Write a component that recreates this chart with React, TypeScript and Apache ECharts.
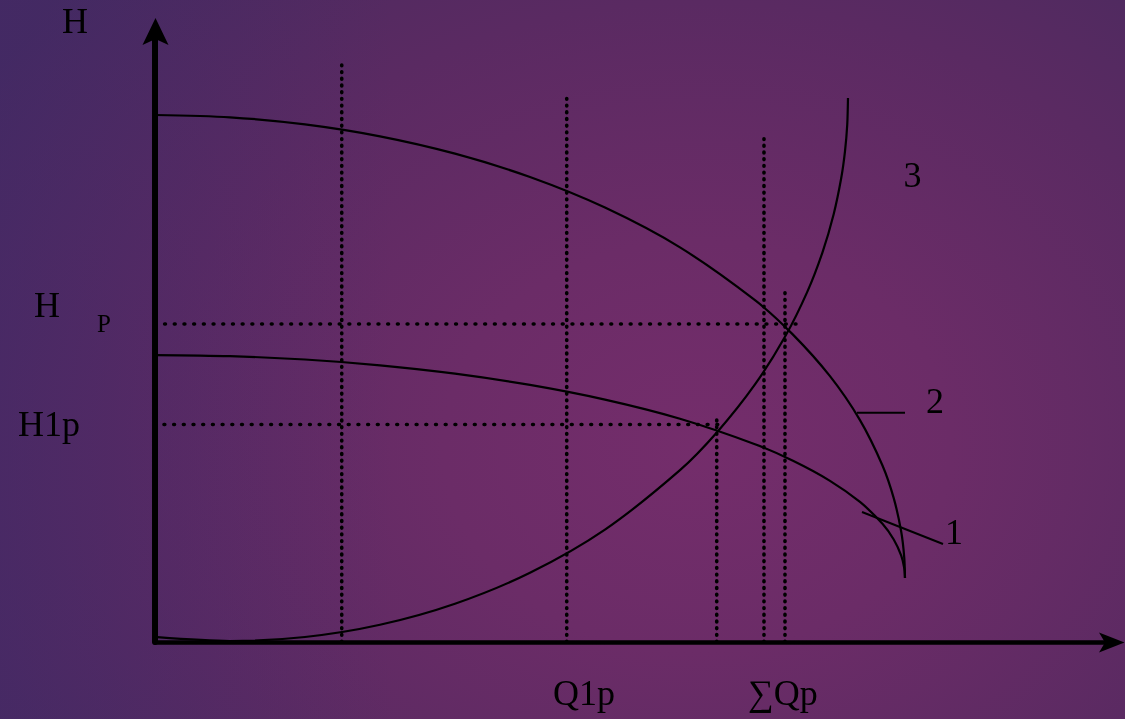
import React, { useEffect, useRef } from "react";
import * as echarts from "echarts";

// Flow Q (arbitrary units) and head H (arbitrary units)
const pumpQ = [0, 10, 20, 30, 40, 50, 60, 70, 80, 85, 90, 94, 97, 98.5, 99.5, 99.9, 100];
const curve1H = [54.45, 54.24, 53.6, 52.5, 50.92, 48.78, 45.99, 42.36, 37.53, 34.43, 30.58, 26.57, 22.43, 19.44, 16.37, 14.03, 12.14];
const curve2H = [100.0, 99.56, 98.22, 95.95, 92.66, 88.23, 82.43, 74.88, 64.86, 58.42, 50.44, 42.11, 33.5, 27.3, 20.91, 16.07, 12.14];

const systemQ = [0.3, 10, 20, 30, 40, 50, 60, 70, 75, 80, 84, 87, 89, 90.5, 91.5, 92, 92.3, 92.4];
const curve3H = [0.91, 0.19, 0.95, 3.27, 7.26, 13.14, 21.33, 32.61, 39.9, 48.87, 57.91, 66.54, 73.94, 81.23, 88.04, 93.09, 98.16, 103.23];

// vertical dotted guide lines: flow position and top head
const guideQ = [24.9, 54.9, 74.9, 81.2, 84.0];
const guideTop = [109.5, 103.3, 42.6, 95.9, 66.8];

// horizontal dotted guide lines: head, start flow, end flow
const levelH = [60.34, 41.27];
const levelFrom = [-1.3, 1.2];
const levelTo = [86.2, 75.3];

const X_MAX = 127.07;
const Y_MAX = 114.23;

const FONT = '"Liberation Serif", "Times New Roman", "DejaVu Serif", serif';

export default function App() {
  const ref = useRef<HTMLDivElement>(null);

  useEffect(() => {
    if (!ref.current) return;
    const chart = echarts.init(ref.current, undefined, { renderer: "svg" });

    const curveStyle = { color: "#000", width: 2.2 };
    const series: any[] = [
      {
        type: "line",
        name: "1",
        data: pumpQ.map((q, i) => [q, curve1H[i]]),
        smooth: 0.3,
        showSymbol: false,
        lineStyle: curveStyle,
      },
      {
        type: "line",
        name: "2",
        data: pumpQ.map((q, i) => [q, curve2H[i]]),
        smooth: 0.3,
        showSymbol: false,
        lineStyle: curveStyle,
      },
      {
        type: "line",
        name: "3",
        data: systemQ.map((q, i) => [q, curve3H[i]]),
        smooth: 0.3,
        showSymbol: false,
        lineStyle: curveStyle,
      },
    ];
    guideQ.forEach((q, i) => {
      series.push({
        type: "line",
        data: [
          [q, 0],
          [q, guideTop[i]],
        ],
        showSymbol: false,
        lineStyle: { color: "#000", width: 3.6, type: [0.8, 5.9], cap: "round" },
      });
    });
    levelH.forEach((h, i) => {
      series.push({
        type: "line",
        clip: false,
        data: [
          [levelFrom[i], h],
          [levelTo[i], h],
        ],
        showSymbol: false,
        lineStyle: { color: "#000", width: 3.6, type: [0.8, 8.9], cap: "round" },
      });
    });

    const txt = (text: string, x: number, y: number, size: number, align = "center") => ({
      type: "text",
      z: 100,
      style: {
        text,
        x,
        y,
        font: `${size}px ${FONT}`,
        fill: "#000",
        align,
        verticalAlign: "middle",
      },
    });

    chart.setOption({
      animation: false,
      backgroundColor: "transparent",
      grid: { left: 155, right: 17, top: 40, bottom: 77 },
      xAxis: {
        type: "value",
        min: 0,
        max: X_MAX,
        axisLine: {
          show: true,
          onZero: false,
          lineStyle: { color: "#000", width: 4.5 },
        },
        axisTick: { show: false },
        axisLabel: { show: false },
        splitLine: { show: false },
      },
      yAxis: {
        type: "value",
        min: 0,
        max: Y_MAX,
        axisLine: {
          show: true,
          onZero: false,
          lineStyle: { color: "#000", width: 6 },
        },
        axisTick: { show: false },
        axisLabel: { show: false },
        splitLine: { show: false },
      },
      series,
      graphic: [
        {
          type: "polygon",
          z: 100,
          shape: {
            points: [
              [155.5, 18],
              [168.5, 45],
              [155.5, 39],
              [142.5, 45],
            ],
          },
          style: { fill: "#000" },
        },
        {
          type: "polygon",
          z: 100,
          shape: {
            points: [
              [1124.5, 642.5],
              [1099, 652.5],
              [1105, 642.5],
              [1099, 632.5],
            ],
          },
          style: { fill: "#000" },
        },
        txt("H", 75, 21, 36),
        txt("H", 47, 305, 36),
        txt("P", 104, 323, 25),
        txt("H1p", 18, 424, 36, "left"),
        txt("Q1p", 553, 692.5, 36, "left"),
        txt("\u2211Qp", 748, 692.5, 36, "left"),
        txt("3", 912.5, 174.5, 36),
        txt("2", 935, 401, 36),
        txt("1", 954, 531.5, 36),
        {
          type: "line",
          z: 100,
          shape: { x1: 857, y1: 412.7, x2: 905, y2: 412.7 },
          style: { stroke: "#000", lineWidth: 2 },
        },
        {
          type: "line",
          z: 100,
          shape: { x1: 862, y1: 512, x2: 943, y2: 544 },
          style: { stroke: "#000", lineWidth: 2 },
        },
      ],
    });

    return () => chart.dispose();
  }, []);

  return (
    <div
      style={{
        position: "fixed",
        left: 0,
        top: 0,
        width: 1125,
        height: 719,
        background:
          "linear-gradient(90deg, rgba(60,40,110,0.35) 0%, rgba(60,40,110,0) 35%), radial-gradient(ellipse 75% 95% at 62% 62%, #742d6b 0%, #6b2c67 30%, #5a2a62 65%, #472a5e 100%)",
      }}
    >
      <div ref={ref} style={{ width: 1125, height: 719 }} />
    </div>
  );
}
